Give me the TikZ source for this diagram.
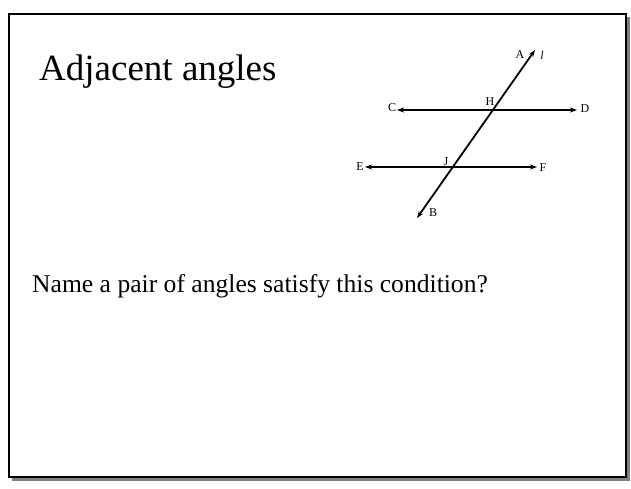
\documentclass[tikz,border=0pt]{standalone}
\usepackage{fontspec}
\setmainfont{Liberation Serif}
\usetikzlibrary{arrows.meta, positioning}
\definecolor{shadowgray}{RGB}{128, 128, 128}

\begin{document}
\begin{tikzpicture}[x=1pt, y=-1pt,
    frame/.style={draw=black, fill=white, line width=1.6pt},
    shadow/.style={fill=shadowgray},
    line/.style={line width=1.8pt, {Stealth[length=7pt, width=5pt]}-{Stealth[length=7pt, width=5pt]}},
    ptlabel/.style={inner sep=0pt, font=\fontsize{12}{12}\selectfont},
    title/.style={anchor=base west, inner sep=0pt, font=\fontsize{37}{37}\selectfont},
    body/.style={anchor=base west, inner sep=0pt, font=\fontsize{25.6}{25.6}\selectfont}]

    \useasboundingbox (0,0) rectangle (631,488);

    % Slide frame
    \fill[shadow] (12,17) rectangle (629.5,480.5);
    \draw[frame] (9,14) rectangle (626,477);

    % Texts
    \node[title] (title) at (39,80) {Adjacent angles};
    \node[body] (question) at (32,292) {Name a pair of angles satisfy this condition?};

    % Line ends
    \coordinate (A) at (535,50);
    \coordinate (B) at (417,218);
    \coordinate (C) at (397,110);
    \coordinate (D) at (577,110);
    \coordinate (E) at (365,167);
    \coordinate (F) at (537,167);

    % Lines
    \draw[line] (B) -- (A);
    \draw[line] (C) -- (D);
    \draw[line] (E) -- (F);

    % Labels
    \node[ptlabel] (labA) at (520,55) {A};
    \node[ptlabel] (labl) at (542,55) {\itshape l};
    \node[ptlabel] (labH) at (490,102) {H};
    \node[ptlabel] (labC) at (392,108) {C};
    \node[ptlabel] (labD) at (585,109) {D};
    \node[ptlabel] (labE) at (360,167) {E};
    \node[ptlabel] (labJ) at (446,162) {J};
    \node[ptlabel] (labF) at (543,168) {F};
    \node[ptlabel] (labB) at (433,213) {B};
\end{tikzpicture}
\end{document}
